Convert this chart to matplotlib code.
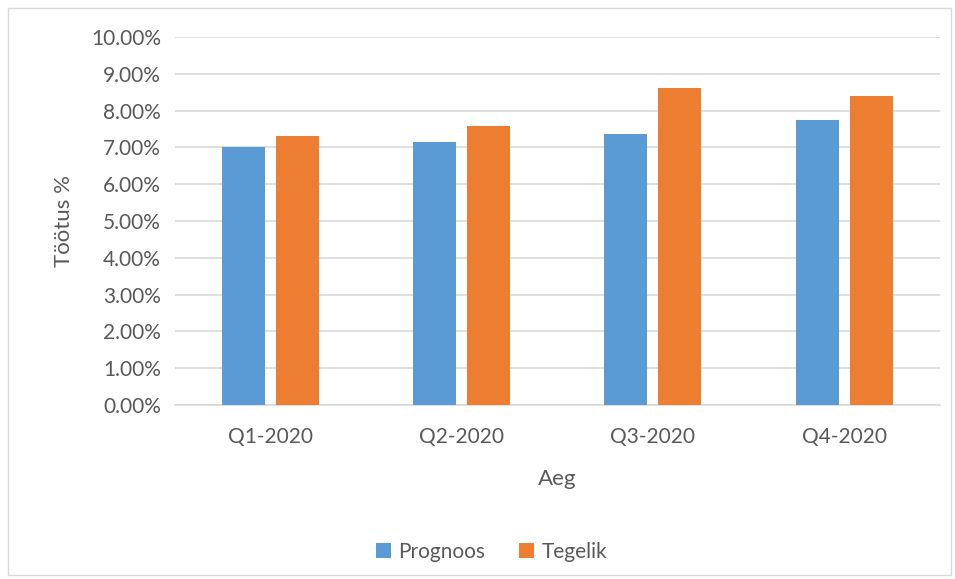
import matplotlib
matplotlib.use("Agg")
import matplotlib.pyplot as plt
from matplotlib.patches import Rectangle
from matplotlib.ticker import FuncFormatter, MultipleLocator
import numpy as np

quarters = ["Q1-2020", "Q2-2020", "Q3-2020", "Q4-2020"]
prognoos = [0.0702, 0.0715, 0.0737, 0.0775]
tegelik = [0.0731, 0.0759, 0.0861, 0.0840]

BLUE = "#5B9BD5"
ORANGE = "#ED7D31"
TEXT = "#595959"
GRID = "#D9D9D9"

plt.rcParams["font.family"] = ["Lato", "DejaVu Sans"]

fig = plt.figure(figsize=(9.55, 5.79), dpi=100)
# light chart-area frame
fig.patches.append(Rectangle((8 / 955, 4 / 579), 943 / 955, 567 / 579,
                             transform=fig.transFigure, fill=False,
                             edgecolor=GRID, linewidth=1.0))

ax = fig.add_axes([0.183, 0.3005, 0.801, 0.6355])
x = np.arange(len(quarters))
w = 0.225
off = 0.1415
ax.bar(x - off, prognoos, w, color=BLUE, label="Prognoos", zorder=3)
ax.bar(x + off, tegelik, w, color=ORANGE, label="Tegelik", zorder=3)

ax.set_xlim(-0.5, 3.5)
ax.set_ylim(0, 0.10)
ax.yaxis.set_major_locator(MultipleLocator(0.01))
ax.yaxis.set_major_formatter(FuncFormatter(lambda v, _: f"{v * 100:.2f}%"))
ax.set_xticks(x)
ax.set_xticklabels(quarters)
ax.grid(axis="y", color=GRID, linewidth=1.2, zorder=0)
for s in ["top", "right", "left"]:
    ax.spines[s].set_visible(False)
ax.spines["bottom"].set_color(GRID)
ax.spines["bottom"].set_linewidth(1.2)
ax.tick_params(axis="both", length=0, labelsize=15, colors=TEXT)
ax.tick_params(axis="y", pad=10)
ax.tick_params(axis="x", pad=16)

ax.set_xlabel("Aeg", fontsize=16, color=TEXT, labelpad=16)
ax.set_ylabel("Töötus %", fontsize=16, color=TEXT, labelpad=12)

ax.legend(loc="upper center", bbox_to_anchor=(0.414, -0.32), ncol=2,
          frameon=False, fontsize=15, labelcolor=TEXT, handlelength=0.75,
          handleheight=0.75, columnspacing=1.6, handletextpad=0.35)

fig.savefig("out.png", dpi=100)
